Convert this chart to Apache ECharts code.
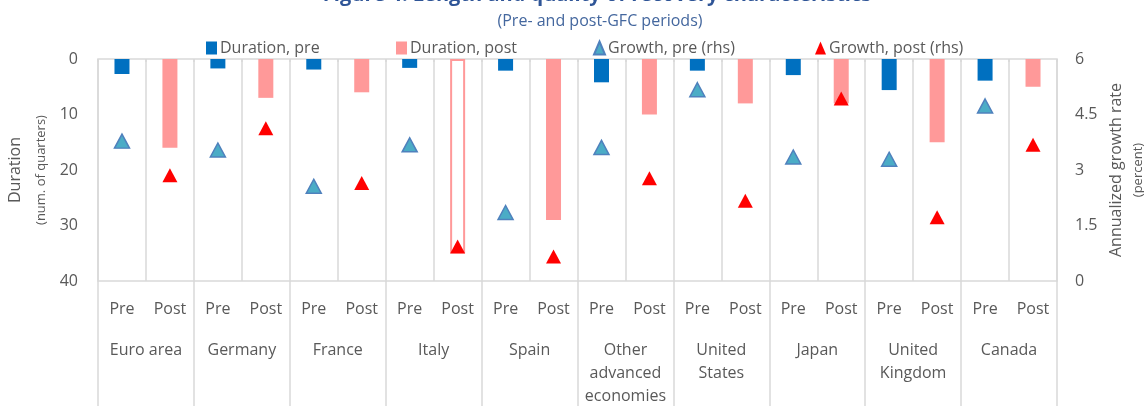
<!DOCTYPE html>
<html>
<head>
<meta charset="utf-8">
<script src="https://cdn.jsdelivr.net/npm/echarts@6/dist/echarts.min.js"></script>
<style>
  html, body { margin: 0; padding: 0; background: #fff; }
  #chart { width: 1144px; height: 406px; }
</style>
</head>
<body>
<div id="chart"></div>
<script>
const countries = ['Euro area', 'Germany', 'France', 'Italy', 'Spain',
  'Other\nadvanced\neconomies', 'United\nStates', 'Japan', 'United\nKingdom', 'Canada']
const periods = ['Pre', 'Post']
const durationPre = [2.7, 1.7, 1.9, 1.6, 2.1, 4.2, 2.1, 2.9, 5.6, 3.9]
const durationPost = [16, 7, 6, 35, 29, 10, 8, 8, 15, 5]
const growthPre = [3.78, 3.54, 2.56, 3.68, 1.85, 3.61, 5.17, 3.35, 3.29, 4.73]
const growthPost = [2.86, 4.13, 2.65, 0.93, 0.66, 2.78, 2.17, 4.93, 1.72, 3.68]
const hollowPost = ['Italy']

const font = '"Open Sans", "Noto Sans", sans-serif'
const grey = '#595959'
const lineGrey = '#d9d9d9'

// one slot per country and period: pre on even, post on odd
const slots = []
countries.forEach(() => periods.forEach(p => slots.push(p)))
const spread = (vals, which) => {
  const out = []
  vals.forEach(v => {
    out.push(which === 0 ? v : '-')
    out.push(which === 1 ? v : '-')
  })
  return out
}
const postBars = spread(durationPost, 1).map((v, i) => {
  if (v === '-') return v
  const c = countries[Math.floor(i / 2)]
  if (hollowPost.includes(c)) {
    return { value: v, itemStyle: { color: '#fff', borderColor: '#FF9999', borderWidth: 2 } }
  }
  return v
})

const chart = echarts.init(document.getElementById('chart'))

const legendBase = {
  top: 35,
  itemWidth: 11,
  itemHeight: 13,
  itemGap: 0,
  textStyle: { fontSize: 16, color: grey, fontFamily: font, padding: [0, 0, 0, -2] }
}

chart.setOption({
  textStyle: { fontFamily: font },
  title: [
    {
      text: 'Figure 4: Length and quality of recovery characteristics',
      left: 592, top: -20, textAlign: 'center',
      textStyle: { fontSize: 20, fontWeight: 'bold', color: '#2F5597', fontFamily: font }
    },
    {
      text: '(Pre- and post-GFC periods)',
      left: 595, top: 8, textAlign: 'center',
      textStyle: { fontSize: 16, fontWeight: 'normal', color: '#44679E', fontFamily: font }
    }
  ],
  legend: [
    Object.assign({}, legendBase, { left: 201, data: [{ name: 'Duration, pre', icon: 'rect' }] }),
    Object.assign({}, legendBase, { left: 391, data: [{ name: 'Duration, post', icon: 'rect' }] }),
    Object.assign({}, legendBase, { left: 588, data: [{ name: 'Growth, pre (rhs)', icon: 'triangle' }] }),
    Object.assign({}, legendBase, { left: 810, data: [{ name: 'Growth, post (rhs)', icon: 'triangle' }] })
  ],
  grid: {
    left: 98, right: 87, top: 59, bottom: 125,
    containLabel: false,
    outerBoundsMode: 'none',
    show: true, borderColor: lineGrey, borderWidth: 1.5
  },
  xAxis: [
    {
      type: 'category',
      data: slots,
      axisLine: { show: false },
      axisTick: { show: true, interval: 0, length: 3, lineStyle: { color: lineGrey, width: 1.5 } },
      splitLine: { show: true, interval: 0, lineStyle: { color: lineGrey, width: 1.5 } },
      axisLabel: { interval: 0, fontSize: 16, color: grey, margin: 20, fontFamily: font }
    },
    {
      type: 'category',
      data: countries,
      position: 'bottom',
      axisLine: { show: false },
      axisTick: { show: true, interval: 0, length: 125, lineStyle: { color: lineGrey, width: 1.5 } },
      axisLabel: { interval: 0, fontSize: 16, color: grey, margin: 58, lineHeight: 23, fontFamily: font }
    }
  ],
  yAxis: [
    {
      type: 'value',
      inverse: true,
      min: 0, max: 40, interval: 10,
      splitLine: { show: false },
      axisLine: { show: false },
      axisLabel: { fontSize: 16, color: grey, margin: 20, fontFamily: font },
      name: '{a|Duration}\n{b|(num. of quarters)}',
      nameLocation: 'middle',
      nameRotate: 90,
      nameGap: 44,
      nameTextStyle: {
        rich: {
          a: { fontSize: 16, color: grey, lineHeight: 27, fontFamily: font },
          b: { fontSize: 13, color: grey, lineHeight: 25, fontFamily: font }
        }
      }
    },
    {
      type: 'value',
      min: 0, max: 6, interval: 1.5,
      position: 'right',
      splitLine: { show: false },
      axisLine: { show: false },
      axisLabel: { fontSize: 16, color: grey, margin: 18, fontFamily: font },
      name: '{a|Annualized growth rate}\n{b|(percent)}',
      nameLocation: 'middle',
      nameRotate: 90,
      nameGap: 47,
      nameTextStyle: {
        rich: {
          a: { fontSize: 16, color: grey, lineHeight: 22, fontFamily: font },
          b: { fontSize: 13, color: grey, lineHeight: 22, fontFamily: font }
        }
      }
    }
  ],
  series: [
    {
      name: 'Duration, pre',
      type: 'bar',
      data: spread(durationPre, 0),
      barWidth: 15,
      barGap: '-100%',
      itemStyle: { color: '#0070C0' }
    },
    {
      name: 'Duration, post',
      type: 'bar',
      data: postBars,
      barWidth: 15,
      barGap: '-100%',
      itemStyle: { color: '#FF9999' }
    },
    {
      name: 'Growth, pre (rhs)',
      type: 'scatter',
      yAxisIndex: 1,
      symbol: 'triangle',
      symbolSize: [15, 14],
      data: spread(growthPre, 0),
      itemStyle: { color: '#4BACC6', borderColor: '#4F81BD', borderWidth: 1.5, opacity: 1 },
      z: 5
    },
    {
      name: 'Growth, post (rhs)',
      type: 'scatter',
      yAxisIndex: 1,
      symbol: 'triangle',
      symbolSize: [15, 14],
      data: spread(growthPost, 1),
      itemStyle: { color: '#FF0000', opacity: 1 },
      z: 5
    }
  ]
})
</script>
</body>
</html>
